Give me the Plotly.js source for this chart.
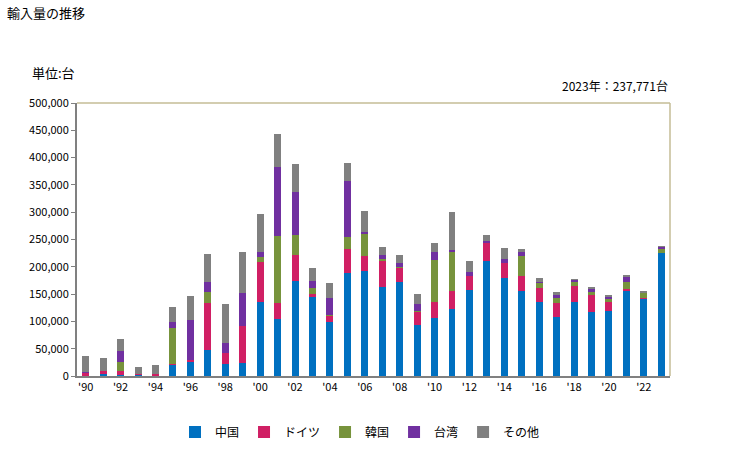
<!DOCTYPE html>
<html><head><meta charset="utf-8">
<script src="https://cdn.plot.ly/plotly-3.0.1.min.js"></script>
<style>body{margin:0;background:#fff}#c{width:729px;height:450px}</style>
</head><body><div id="c"></div>
<script>
const years = [1990,1991,1992,1993,1994,1995,1996,1997,1998,1999,2000,2001,2002,2003,2004,2005,2006,2007,2008,2009,2010,2011,2012,2013,2014,2015,2016,2017,2018,2019,2020,2021,2022,2023];
const china  = [800,4000,2000,2500,500,19600,26000,48000,22000,23000,136000,104500,174000,145000,99000,189000,192500,163000,172000,93500,106000,123000,158000,211000,180000,156000,136000,108000,136000,117000,119000,156000,141000,224500];
const germany= [4000,5000,7000,1200,3500,2500,3000,85600,19600,68500,72800,29400,47700,5500,11000,44000,27500,47700,25600,23900,29400,33000,25700,33000,27000,27500,25700,25700,29300,31200,16500,3600,1800,800];
const korea  = [0,0,16500,0,0,66000,0,20000,0,0,9200,122800,36600,11000,1800,22000,40300,3600,1900,1800,77000,71500,0,0,0,36700,9200,9200,7400,5500,5500,12900,9200,7500];
const taiwan = [2500,0,20000,0,0,11000,73400,18400,19000,60500,9200,126500,78900,12800,31200,102700,3700,7400,7300,12800,14700,3600,7300,3600,7300,7300,1800,5500,3600,5500,3700,9100,0,3500];
const others = [29000,24000,22000,12800,16500,27500,44000,51300,71500,75200,69700,60500,51300,23800,27500,33000,38500,14600,14700,18400,16500,69700,20200,11000,20200,5500,7300,5500,1900,3700,3600,3700,3700,1500];
const seriesNames = ['中国','ドイツ','韓国','台湾','その他'];
const colors = ['#0070c0','#d01f64','#77933c','#7030a0','#808080'];
const tickYears = [1990,1992,1994,1996,1998,2000,2002,2004,2006,2008,2010,2012,2014,2016,2018,2020,2022];
const tickText = tickYears.map(y => "'" + String(y).slice(2));
const yTicks = [0,50000,100000,150000,200000,250000,300000,350000,400000,450000,500000];

const data = [china, germany, korea, taiwan, others].map((v,i) => ({
  type:'bar', x:years, y:v, name:seriesNames[i], marker:{color:colors[i]}
}));
const font = "'Noto Sans CJK JP', 'DejaVu Sans', sans-serif";
const layout = {
  width:729, height:450, barmode:'stack', bargap:0.6,
  margin:{l:77, r:59, t:103, b:74},
  paper_bgcolor:'#fff', plot_bgcolor:'#fff',
  font:{family:font, size:11, color:'#000'},
  showlegend:true,
  legend:{orientation:'h', xref:'container', yref:'container', x:360/729, xanchor:'center', y:1-432/450, yanchor:'middle', font:{size:12}, itemwidth:30, traceorder:'normal'},
  xaxis:{range:[1989.5,2023.5], tickvals:tickYears, ticktext:tickText, showline:true, linecolor:'#808080', linewidth:2, ticks:'', showgrid:false, zeroline:false, tickfont:{size:11}, automargin:false},
  yaxis:{range:[0,500000], tickvals:yTicks, tickformat:',d', showline:true, linecolor:'#808080', linewidth:2, ticks:'outside', ticklen:4, tickcolor:'#808080', showgrid:false, zeroline:false, tickfont:{size:11}, automargin:false},
  shapes:[
    {type:'line', xref:'paper', yref:'paper', x0:0, x1:1, y0:1, y1:1, line:{color:'#c4bc96', width:1.5}},
    {type:'line', xref:'paper', yref:'paper', x0:1, x1:1, y0:0, y1:1, line:{color:'#c4bc96', width:1.5}}
  ]
};
layout.annotations = [
  {text:'輸入量の推移', xref:'paper', yref:'paper', x:(5-77)/593, xanchor:'left', y:1+(103-12)/273, yanchor:'middle', showarrow:false, font:{size:13}},
  {text:'単位:台', xref:'paper', yref:'paper', x:(30-77)/593, xanchor:'left', y:1+(103-73)/273, yanchor:'middle', showarrow:false, font:{size:13}},
  {text:'2023年：237,771台', xref:'paper', yref:'paper', x:1, xanchor:'right', y:1+(103-85)/273, yanchor:'middle', showarrow:false, font:{size:12}}
];
Plotly.newPlot('c', data, layout, {displayModeBar:false, staticPlot:true});
</script></body></html>
